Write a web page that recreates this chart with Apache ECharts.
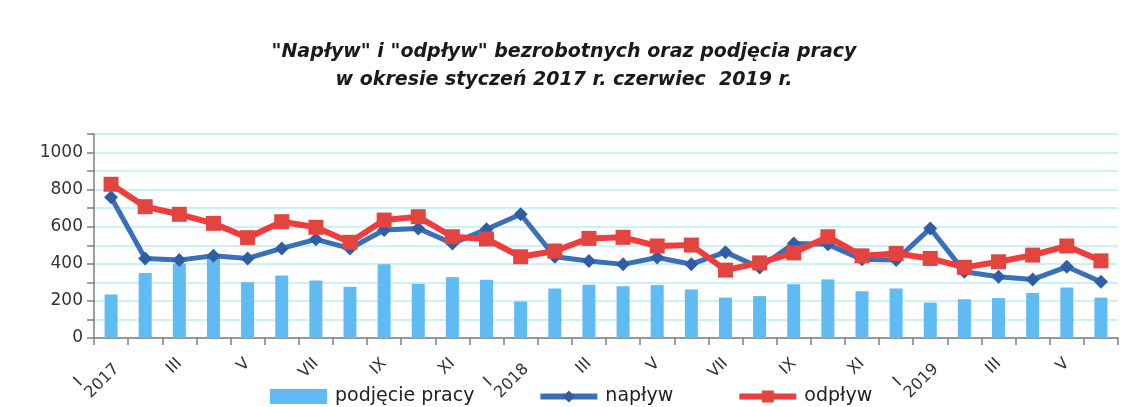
<!DOCTYPE html>
<html>
<head>
<meta charset="utf-8">
<script src="https://cdn.jsdelivr.net/npm/echarts@6.0.0/dist/echarts.min.js"></script>
<style>
  html, body { margin: 0; padding: 0; background: #fff; }
  #chart { width: 1128px; height: 407px; }
</style>
</head>
<body>
<div id="chart"></div>
<script>
// months Jan 2017 .. Jun 2019
const months = [
  'I 2017', 'II', 'III', 'IV', 'V', 'VI', 'VII', 'VIII', 'IX', 'X', 'XI', 'XII',
  'I 2018', 'II', 'III', 'IV', 'V', 'VI', 'VII', 'VIII', 'IX', 'X', 'XI', 'XII',
  'I 2019', 'II', 'III', 'IV', 'V', 'VI'
];

const podjecie = [235, 351, 402, 440, 301, 337, 310, 276, 398, 292, 328, 314,
  197, 267, 287, 279, 285, 262, 218, 226, 290, 316, 252, 267,
  191, 209, 215, 243, 272, 218];

const naplyw = [759, 429, 420, 443, 429, 483, 532, 483, 582, 591, 510, 586,
  667, 438, 415, 397, 434, 398, 463, 380, 510, 505, 424, 420,
  591, 357, 330, 316, 384, 303];

const odplyw = [829, 708, 667, 618, 541, 627, 597, 516, 636, 654, 546, 534,
  438, 469, 537, 543, 496, 501, 366, 405, 459, 546, 443, 456,
  429, 381, 411, 447, 496, 416];

const yTicks = [0, 200, 400, 600, 800, 1000];

const chart = echarts.init(document.getElementById('chart'));

const option = {
  animation: false,
  title: {
    text: '"Napływ" i "odpływ" bezrobotnych oraz podjęcia pracy\nw okresie styczeń 2017 r. czerwiec  2019 r.',
    left: 'center',
    top: 33,
    textStyle: {
      fontFamily: 'DejaVu Sans',
      fontStyle: 'italic',
      fontWeight: 'bold',
      fontSize: 19,
      lineHeight: 28,
      color: '#1a1a1a'
    }
  },
  legend: {
    left: 265,
    top: 382,
    itemWidth: 57,
    itemHeight: 15,
    itemGap: 63,
    lineStyle: { width: 6 },
    textStyle: {
      fontFamily: 'DejaVu Sans',
      fontSize: 19,
      color: '#222',
      padding: [0, 0, 0, 3]
    },
    data: [
      { name: 'podjęcie pracy', icon: 'rect' },
      { name: 'napływ' },
      { name: 'odpływ' }
    ]
  },
  grid: {
    left: 94,
    right: 10,
    top: 134,
    bottom: 69
  },
  xAxis: {
    type: 'category',
    data: months,
    axisLine: { lineStyle: { color: '#7f7f7f', width: 1.5 } },
    axisTick: { show: true, interval: 0, length: 7, lineStyle: { color: '#7f7f7f', width: 1.5 } },
    axisLabel: {
      interval: 1,
      rotate: 45,
      margin: 23,
      fontFamily: 'DejaVu Sans',
      fontSize: 16,
      color: '#333',
      formatter: function (v) {
        const p = v.split(' ');
        if (p.length > 1) return p[0] + '       \n' + p[1];
        return v;
      }
    }
  },
  yAxis: {
    type: 'value',
    min: 0,
    max: 1100,
    interval: 100,
    axisLine: { show: true, lineStyle: { color: '#7f7f7f', width: 1.5 } },
    axisTick: { show: true, length: 7, lineStyle: { color: '#7f7f7f', width: 1.5 } },
    axisLabel: {
      margin: 11,
      fontFamily: 'DejaVu Sans',
      fontSize: 17,
      color: '#333',
      formatter: function (v) {
        return yTicks.indexOf(v) >= 0 ? String(v) : '';
      }
    },
    splitLine: { lineStyle: { color: '#b8eef5', width: 1.5 } }
  },
  series: [
    {
      name: 'podjęcie pracy',
      type: 'bar',
      data: podjecie,
      barWidth: 13,
      itemStyle: { color: '#60bbf2' }
    },
    {
      name: 'napływ',
      type: 'line',
      data: naplyw,
      symbol: 'diamond',
      symbolSize: 14,
      lineStyle: { color: '#3a6fba', width: 5 },
      itemStyle: { color: '#2f5ea6' }
    },
    {
      name: 'odpływ',
      type: 'line',
      data: odplyw,
      symbol: 'rect',
      symbolSize: 15,
      lineStyle: { color: '#f03c3c', width: 6 },
      itemStyle: { color: '#e2453f' }
    }
  ]
};

chart.setOption(option);
</script>
</body>
</html>
